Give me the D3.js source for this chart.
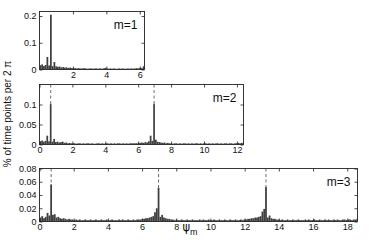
<!DOCTYPE html>
<html><head><meta charset="utf-8">
<script src="https://cdn.jsdelivr.net/npm/d3@7"></script>
<style>body{margin:0;background:#fff}svg{display:block;font-family:"Liberation Sans",Arial,sans-serif}</style>
</head><body><svg id="c" width="374" height="244"></svg>
<script>
// Histogram of psi_m, 60 bins per 2*pi; values = fraction of time points per 2*pi
const binsPer2Pi = 60;
const m1Values = [
 0.016,0.019,0.013,0.017,0.047,0.015,0.205,0.013,0.028,0.012,
 0.010,0.011,0.008,0.009,0.007,0.008,0.006,0.007,0.005,0.006,
 0.005,0.004,0.005,0.004,0.004,0.005,0.004,0.003,0.004,0.004,
 0.003,0.004,0.004,0.003,0.004,0.003,0.004,0.006,0.004,0.003,
 0.004,0.003,0.004,0.003,0.003,0.004,0.003,0.004,0.003,0.003,
 0.004,0.003,0.004,0.003,0.004,0.005,0.004,0.006,0.005,0.012];
const m2Values = [
 0.008,0.010,0.007,0.009,0.022,0.008,0.101,0.007,0.014,0.006,
 0.007,0.005,0.006,0.007,0.004,0.005,0.003,0.004,0.003,0.003,
 0.003,0.002,0.003,0.003,0.002,0.003,0.002,0.003,0.003,0.002,
 0.003,0.002,0.002,0.003,0.003,0.002,0.003,0.002,0.003,0.003,
 0.002,0.003,0.002,0.003,0.002,0.003,0.003,0.002,0.003,0.002,
 0.003,0.002,0.003,0.003,0.003,0.003,0.003,0.004,0.004,0.005,
 0.004,0.006,0.005,0.008,0.022,0.009,0.101,0.012,0.007,0.006,
 0.005,0.004,0.005,0.003,0.004,0.003,0.003,0.002,0.003,0.003,
 0.002,0.003,0.002,0.003,0.003,0.002,0.003,0.002,0.003,0.002,
 0.003,0.003,0.002,0.003,0.002,0.003,0.003,0.002,0.003,0.002,
 0.003,0.002,0.003,0.003,0.002,0.003,0.002,0.003,0.003,0.002,
 0.003,0.003,0.002,0.003,0.003,0.004,0.003,0.004,0.004,0.005];
const m3Values = [
 0.006,0.008,0.005,0.007,0.013,0.009,0.056,0.010,0.011,0.006,
 0.007,0.005,0.004,0.005,0.004,0.003,0.004,0.003,0.003,0.002,
 0.003,0.002,0.003,0.002,0.002,0.003,0.002,0.002,0.003,0.002,
 0.002,0.003,0.002,0.002,0.003,0.002,0.002,0.003,0.002,0.002,
 0.003,0.002,0.002,0.002,0.003,0.002,0.003,0.002,0.002,0.003,
 0.002,0.002,0.003,0.002,0.003,0.003,0.003,0.004,0.004,0.005,
 0.005,0.006,0.007,0.008,0.014,0.020,0.051,0.007,0.010,0.006,
 0.005,0.004,0.004,0.003,0.003,0.002,0.003,0.002,0.002,0.003,
 0.002,0.002,0.003,0.002,0.002,0.003,0.002,0.002,0.002,0.003,
 0.002,0.003,0.002,0.002,0.003,0.002,0.002,0.003,0.002,0.002,
 0.003,0.002,0.002,0.003,0.002,0.002,0.003,0.002,0.002,0.003,
 0.002,0.002,0.003,0.002,0.003,0.003,0.004,0.004,0.005,0.005,
 0.006,0.006,0.007,0.008,0.015,0.019,0.052,0.006,0.009,0.005,
 0.004,0.004,0.003,0.003,0.002,0.003,0.002,0.002,0.003,0.002,
 0.002,0.003,0.002,0.002,0.003,0.002,0.002,0.002,0.003,0.002,
 0.003,0.002,0.002,0.003,0.002,0.002,0.003,0.002,0.002,0.003,
 0.002,0.003,0.002,0.002,0.003,0.002,0.003,0.002,0.002,0.003,
 0.003,0.002,0.003,0.003,0.002,0.003,0.003,0.004,0.003,0.004];
const panelLabels = ["m=1","m=2","m=3"];
const xMaxes = [2*Math.PI, 12.4, 18.6];
const xTickValues = [[2,4,6],[0,2,4,6,8,10,12],[0,2,4,6,8,10,12,14,16,18]];
const yMaxes = [0.217, 0.15, 0.08];
const yTickValues = [[0,0.1,0.2],[0,0.05,0.1],[0,0.02,0.04,0.06,0.08]];
const peakBins = [[],[6,66],[6,66,126]];
const yTitle = "% of time points per 2 π";

// layout (pixels)
const boxes = [
  {x0:39.5, x1:144.5, y0:11.5, y1:69.5},
  {x0:39.5, x1:243.5, y0:84.5, y1:144.5},
  {x0:39.5, x1:357.5, y0:168.5, y1:221.5}
];
const series = [m1Values, m2Values, m3Values];
const bw = 2*Math.PI/binsPer2Pi;
const svg = d3.select("#c");
const defs = svg.append("defs");

series.forEach((vals, p) => {
  const b = boxes[p];
  const x = d3.scaleLinear().domain([0, xMaxes[p]]).range([b.x0, b.x1]);
  const y = d3.scaleLinear().domain([0, yMaxes[p]]).range([b.y1, b.y0]);
  const g = svg.append("g");
  defs.append("clipPath").attr("id","clip"+p).append("rect")
    .attr("x", b.x0).attr("y", b.y0).attr("width", b.x1-b.x0).attr("height", b.y1-b.y0);
  const bars = g.append("g").attr("clip-path","url(#clip"+p+")");
  bars.selectAll("rect").data(vals).join("rect")
    .attr("x", (d,i) => x(i*bw))
    .attr("width", (d,i) => x((i+1)*bw) - x(i*bw))
    .attr("y", d => y(d))
    .attr("height", d => y(0) - y(d))
    .attr("fill", "#404040");
  // dashed reference lines above peaks
  bars.selectAll("line").data(peakBins[p]).join("line")
    .attr("x1", i => x((i+0.5)*bw)).attr("x2", i => x((i+0.5)*bw))
    .attr("y1", b.y0).attr("y2", i => y(vals[i]))
    .attr("stroke", "#444").attr("stroke-width", 0.8).attr("stroke-dasharray","3,2.5");

  const styleAxis = sel => {
    sel.select(".domain").remove();
    sel.selectAll(".tick line").attr("stroke","#222").attr("stroke-width",0.8);
    sel.selectAll("text").attr("font-size", 9).attr("fill","#111")
      .attr("font-family", '"Liberation Sans",Arial,sans-serif');
  };
  g.append("g").attr("transform",`translate(0,${b.y1})`)
    .call(d3.axisBottom(x).tickValues(xTickValues[p]).tickFormat(d3.format("d")).tickSizeInner(-3).tickSizeOuter(0).tickPadding(2.5))
    .call(styleAxis);
  g.append("g").attr("transform",`translate(0,${b.y0})`)
    .call(d3.axisTop(x).tickValues(xTickValues[p]).tickFormat("").tickSizeInner(-3).tickSizeOuter(0))
    .call(styleAxis);
  g.append("g").attr("transform",`translate(${b.x0},0)`)
    .call(d3.axisLeft(y).tickValues(yTickValues[p]).tickFormat(d => String(d)).tickSizeInner(-3).tickSizeOuter(0).tickPadding(3))
    .call(styleAxis);
  g.append("g").attr("transform",`translate(${b.x1},0)`)
    .call(d3.axisRight(y).tickValues(yTickValues[p]).tickFormat("").tickSizeInner(-3).tickSizeOuter(0))
    .call(styleAxis);
  g.append("rect").attr("x",b.x0).attr("y",b.y0).attr("width",b.x1-b.x0).attr("height",b.y1-b.y0)
    .attr("fill","none").attr("stroke","#222").attr("stroke-width",0.9);
  g.append("text").attr("x", b.x1-7).attr("y", b.y0+17).attr("text-anchor","end")
    .attr("font-size",12).attr("fill","#111").text(panelLabels[p]);
});

// x-axis title psi_m on bottom panel
const xt = svg.append("text").attr("x",182.5).attr("y",230.5).attr("font-size",11.5).attr("fill","#111")
  .attr("font-family",'"DejaVu Sans",sans-serif');
xt.append("tspan").text("ψ");
xt.append("tspan").attr("dy",4.5).attr("font-size",9).attr("font-family",'"Liberation Sans",Arial,sans-serif').text("m");

// y-axis title
svg.append("text").attr("transform","translate(11,114) rotate(-90)")
  .attr("text-anchor","middle").attr("font-size",10).attr("fill","#111").text(yTitle);
</script></body></html>
